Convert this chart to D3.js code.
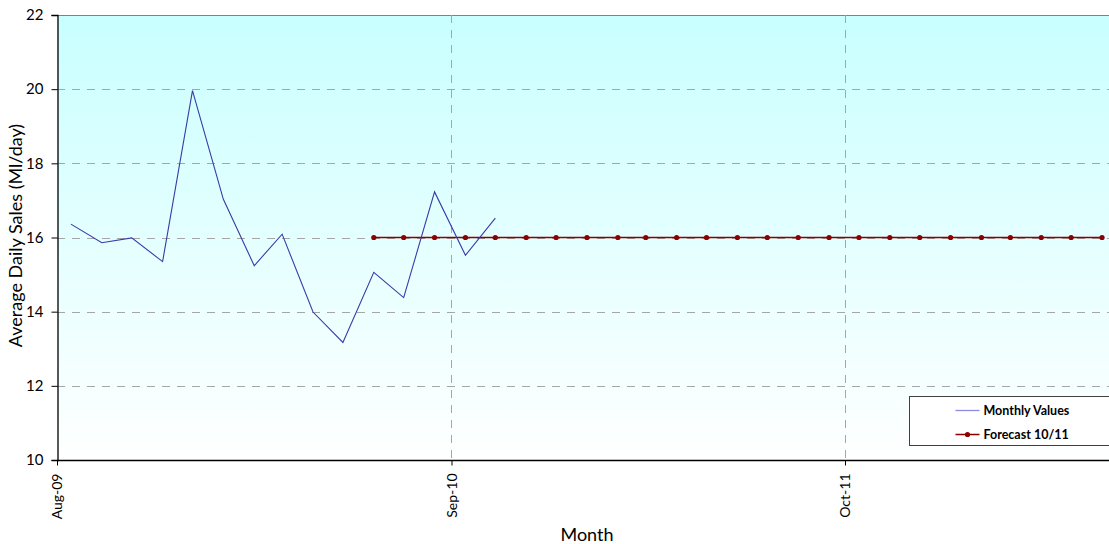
<!DOCTYPE html>
<html>
<head>
<meta charset="utf-8">
<script src="https://cdn.jsdelivr.net/npm/d3@7"></script>
<style>
  html, body { margin: 0; padding: 0; background: #fff; }
  svg { display: block; font-family: Lato, "Open Sans", sans-serif; }
</style>
</head>
<body>
<svg id="chart" width="1109" height="544"></svg>
<script>
// Monthly average daily sales (Ml/day), plotted at mid-month
const monthlyDates = ["2009-08-15","2009-09-15","2009-10-15","2009-11-15","2009-12-15","2010-01-15",
  "2010-02-15","2010-03-15","2010-04-15","2010-05-15","2010-06-15","2010-07-15","2010-08-15",
  "2010-09-15","2010-10-15"];
const monthlyValues = [16.36, 15.86, 15.99, 15.35, 19.96, 17.03, 15.24, 16.09, 13.99, 13.17,
  15.06, 14.38, 17.23, 15.52, 16.52];

// Forecast 10/11: flat 16 Ml/day from Jun-10 through Jun-12
const forecastDates = ["2010-06-15","2010-07-15","2010-08-15","2010-09-15","2010-10-15","2010-11-15",
  "2010-12-15","2011-01-15","2011-02-15","2011-03-15","2011-04-15","2011-05-15","2011-06-15",
  "2011-07-15","2011-08-15","2011-09-15","2011-10-15","2011-11-15","2011-12-15","2012-01-15",
  "2012-02-15","2012-03-15","2012-04-15","2012-05-15","2012-06-15"];
const forecastValues = [16, 16, 16, 16, 16, 16, 16, 16, 16, 16, 16, 16, 16,
  16, 16, 16, 16, 16, 16, 16, 16, 16, 16, 16, 16];

const xTickDates = ["2009-08-01", "2010-09-01", "2011-10-01"];
const xTickLabels = ["Aug-09", "Sep-10", "Oct-11"];
const yTicks = [10, 12, 14, 16, 18, 20, 22];
const seriesNames = ["Monthly Values", "Forecast 10/11"];

const parse = d3.utcParse("%Y-%m-%d");
const svg = d3.select("#chart");

const plot = { left: 57, top: 15, bottom: 460, right: 1130 };

const x = d3.scaleUtc()
  .domain([parse(xTickDates[0]), parse(xTickDates[2])])
  .range([plot.left, 845]);
const y = d3.scaleLinear().domain([10, 22]).range([plot.bottom, plot.top]);

// Background gradient
const defs = svg.append("defs");
const grad = defs.append("linearGradient").attr("id", "bg").attr("x1", 0).attr("y1", 0).attr("x2", 0).attr("y2", 1);
grad.append("stop").attr("offset", "0%").attr("stop-color", "#c9ffff");
grad.append("stop").attr("offset", "100%").attr("stop-color", "#ffffff");

svg.append("rect")
  .attr("x", plot.left).attr("y", plot.top)
  .attr("width", plot.right - plot.left).attr("height", plot.bottom - plot.top)
  .attr("fill", "url(#bg)");

// Top border of the plot area
svg.append("line")
  .attr("x1", plot.left).attr("x2", plot.right)
  .attr("y1", plot.top + 0.5).attr("y2", plot.top + 0.5)
  .attr("stroke", "#808080").attr("stroke-width", 1);

// Horizontal gridlines
svg.append("g").selectAll("line")
  .data(yTicks.filter(v => v > 10 && v < 22))
  .join("line")
  .attr("x1", plot.left).attr("x2", plot.right)
  .attr("y1", d => Math.round(y(d)) + 0.5).attr("y2", d => Math.round(y(d)) + 0.5)
  .attr("stroke", "#a6a6a6").attr("stroke-dasharray", "8,7");

// Vertical gridlines
svg.append("g").selectAll("line")
  .data(xTickDates.slice(1).map(parse))
  .join("line")
  .attr("x1", d => Math.round(x(d)) + 0.5).attr("x2", d => Math.round(x(d)) + 0.5)
  .attr("y1", plot.top).attr("y2", plot.bottom)
  .attr("stroke", "#a6a6a6").attr("stroke-dasharray", "8,7");

// Y axis
const yAxis = d3.axisLeft(y).tickValues(yTicks).tickSize(6).tickPadding(8).tickFormat(d3.format("d"));
const yg = svg.append("g").attr("transform", `translate(${plot.left + 0.5},0)`).call(yAxis);
yg.select(".domain").attr("stroke", "#000").attr("stroke-width", 1.3);
yg.selectAll(".tick line").attr("stroke", "#000");
yg.selectAll(".tick text").attr("font-size", 15).attr("fill", "#000")
  .attr("font-family", "Lato, 'Open Sans', sans-serif");

// X axis
const xAxis = d3.axisBottom(x).tickValues(xTickDates.map(parse)).tickSize(5)
  .tickFormat((d, i) => xTickLabels[i]);
const xg = svg.append("g").attr("transform", `translate(0,${plot.bottom + 0.5})`).call(xAxis);
xg.select(".domain").attr("stroke", "#000").attr("stroke-width", 1.3)
  .attr("d", `M${plot.left},0H${plot.right}`);
xg.selectAll(".tick line").attr("stroke", "#000");
xg.selectAll(".tick text")
  .attr("font-size", 14).attr("fill", "#000")
  .attr("font-family", "Lato, 'Open Sans', sans-serif")
  .attr("transform", "rotate(-90)")
  .attr("text-anchor", "end")
  .attr("x", -13).attr("y", 0).attr("dy", "0.35em");

// Axis titles
svg.append("text")
  .attr("transform", `translate(22,${(plot.top + plot.bottom) / 2 - 2}) rotate(-90)`)
  .attr("text-anchor", "middle")
  .attr("font-size", 18).attr("fill", "#000")
  .text("Average Daily Sales (Ml/day)");

svg.append("text")
  .attr("x", 587).attr("y", 541)
  .attr("text-anchor", "middle")
  .attr("font-size", 18).attr("fill", "#000")
  .text("Month");

// Series
const monthly = monthlyDates.map((d, i) => ({ date: parse(d), value: monthlyValues[i] }));
const forecast = forecastDates.map((d, i) => ({ date: parse(d), value: forecastValues[i] }));
const line = d3.line().x(d => x(d.date)).y(d => y(d.value));

svg.append("path").datum(forecast)
  .attr("d", line).attr("fill", "none")
  .attr("stroke", "#8b0000").attr("stroke-width", 1.5);
svg.append("g").selectAll("circle").data(forecast).join("circle")
  .attr("cx", d => x(d.date)).attr("cy", d => y(d.value)).attr("r", 2.6)
  .attr("fill", "#8b0000");

svg.append("path").datum(monthly)
  .attr("d", line).attr("fill", "none")
  .attr("stroke", "#3a3aa8").attr("stroke-width", 1.1);

// Legend
const lg = svg.append("g").attr("transform", "translate(909.5,396.5)");
lg.append("rect").attr("width", 230).attr("height", 49)
  .attr("fill", "#fff").attr("stroke", "#404040").attr("stroke-width", 1);
const items = [
  { name: seriesNames[0], color: "#8c8ce0", marker: false, y: 14 },
  { name: seriesNames[1], color: "#8b0000", marker: true, y: 38 }
];
items.forEach(it => {
  lg.append("line").attr("x1", 46).attr("x2", 70).attr("y1", it.y).attr("y2", it.y)
    .attr("stroke", it.color).attr("stroke-width", it.marker ? 1.5 : 1.3);
  if (it.marker) lg.append("circle").attr("cx", 58).attr("cy", it.y).attr("r", 2.6).attr("fill", it.color);
  lg.append("text").attr("x", 74).attr("y", it.y).attr("dy", "0.35em")
    .attr("font-size", 12.5).attr("font-weight", "bold").attr("fill", "#000").text(it.name);
});
</script>
</body>
</html>
